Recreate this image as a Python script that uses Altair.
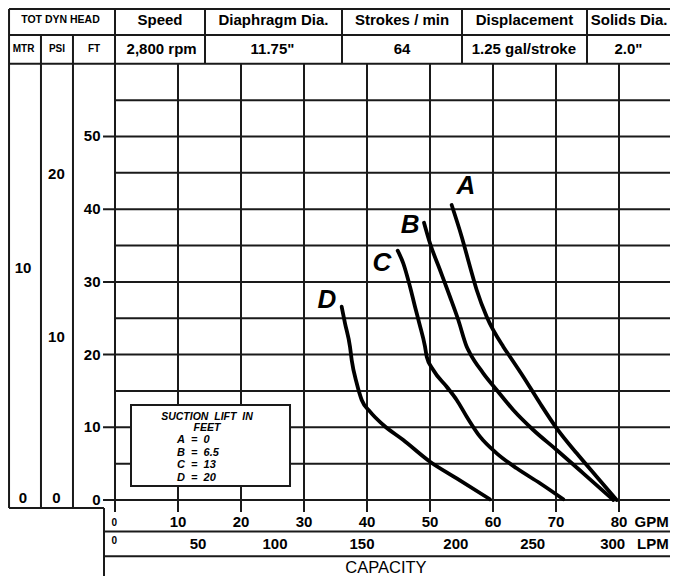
import altair as alt
import pandas as pd

# ---------------- data ----------------
curve_names = ["A", "B", "C", "D"]
curve_A_gpm = [53.44, 55.03, 56.35, 57.41, 59.0, 61.63, 62.70, 64.81, 67.46, 70.11, 73.29, 76.46, 79.63]
curve_A_ft = [40.58, 36.22, 32.09, 28.89, 25.21, 21.09, 19.71, 16.96, 13.30, 9.86, 6.42, 3.20, 0.0]
curve_B_gpm = [49.05, 50.0, 51.59, 53.17, 54.49, 55.83, 56.35, 58.46, 60.59, 63.22, 66.40, 70.11, 74.33, 79.10]
curve_B_ft = [38.14, 35.31, 31.64, 27.96, 24.76, 21.09, 20.18, 17.43, 15.13, 12.38, 9.63, 6.88, 3.67, 0.0]
curve_C_gpm = [44.87, 45.76, 46.83, 47.62, 48.30, 49.21, 49.48, 50.52, 52.65, 54.24, 55.83, 57.94, 60.59, 63.76, 67.46, 71.16]
curve_C_ft = [34.29, 32.56, 29.34, 26.59, 24.31, 21.09, 19.71, 17.88, 15.58, 13.76, 11.46, 8.71, 6.42, 4.36, 2.30, 0.1]
curve_D_gpm = [35.98, 36.51, 37.30, 37.57, 38.37, 39.16, 40.48, 42.59, 45.76, 50.0, 54.24, 59.52]
curve_D_ft = [26.59, 24.31, 21.09, 19.26, 16.05, 13.76, 12.15, 10.32, 8.25, 5.27, 2.98, 0.1]
curve_label_gpm = [55.71, 46.83, 42.38, 33.65]
curve_label_ft = [43.19, 37.83, 32.60, 27.51]

gpm_ticks = [10, 20, 30, 40, 50, 60, 70, 80]
ft_ticks = [0, 10, 20, 30, 40, 50]
ft_minor = [5, 15, 25, 35, 45, 55]
lpm_labels = [50, 100, 150, 200, 250, 300]
lpm_label_gpm = [13.17, 25.4, 39.2, 54.1, 66.3, 79.0]
mtr_labels = ["10", "0"]
mtr_label_ft = [31.9, 0.3]
psi_labels = ["20", "10", "0"]
psi_label_ft = [44.8, 22.4, 0.3]

header_row1 = ["TOT DYN HEAD", "Speed", "Diaphragm Dia.", "Strokes / min", "Displacement", "Solids Dia."]
header_row2 = ["2,800 rpm", "11.75\"", "64", "1.25 gal/stroke", "2.0\""]
unit_heads = ["MTR", "PSI", "FT"]
legend_title = ["SUCTION\u00a0\u00a0LIFT\u00a0\u00a0IN", "FEET"]
NB = "\u00a0\u00a0"
legend_lines = ["A" + NB + "=" + NB + "0", "B" + NB + "=" + NB + "6.5",
                "C" + NB + "=" + NB + "13", "D" + NB + "=" + NB + "20"]

# ---------------- layout in data units (GPM / FT) ----------------
W, H = 662, 568
X_MIN, X_MAX = -16.984, 88.095
Y_MAX = 67.675
Y_MIN = Y_MAX - H / 7.27
X_L = -16.82
Y_T = 67.54
Y_R1 = 63.96
Y_TOP = 60.0
col_x = [14.29, 36.03, 55.08, 74.92]
row1_cx = [-8.65, 7.14, 25.16, 45.56, 65.0, 81.6]
row2_cx = [7.4, 25.0, 45.56, 64.9, 81.5]
unit_cx = [-14.52, -9.21, -3.33]
Y_HDR1, Y_HDR2 = 66.0, 62.04
Y_PANEL_BOT = -1.10
Y_TICK_BOT = -1.65
X_STEP = -1.75
Y_ROW_GPM, Y_ROW_LPM = -4.33, -7.75

xs = alt.Scale(domain=[X_MIN, X_MAX], nice=False, zero=False)
ys = alt.Scale(domain=[Y_MIN, Y_MAX], nice=False, zero=False)
FONT = "Liberation Sans"
INK = "#1a1a1a"

# ---------------- line segments ----------------
segs = []
def seg(x1, x2, y1, y2):
    segs.append({"x": x1, "x2": x2, "y": y1, "y2": y2})

for yy in [Y_T, Y_R1, Y_TOP]:
    seg(X_L, X_MAX, yy, yy)
for cx in col_x:
    seg(cx, cx, Y_TOP, Y_T)
seg(X_L, X_L, Y_PANEL_BOT, Y_T)
seg(-11.75, -11.75, Y_PANEL_BOT, Y_R1)
seg(-6.67, -6.67, Y_PANEL_BOT, Y_R1)
seg(X_L, X_STEP, Y_PANEL_BOT, Y_PANEL_BOT)
seg(0, 0, Y_TICK_BOT, Y_T)
seg(X_STEP, X_STEP, Y_PANEL_BOT, Y_MIN)
seg(X_STEP, X_MAX, Y_ROW_GPM, Y_ROW_GPM)
seg(X_STEP, X_MAX, Y_ROW_LPM, Y_ROW_LPM)
for g in gpm_ticks:
    seg(g, g, Y_TICK_BOT, Y_TOP)
for f in ft_ticks:
    seg(-1.9, X_MAX, f, f)
for f in ft_minor:
    seg(0, X_MAX, f, f)
seg_df = pd.DataFrame(segs)

lines = alt.Chart(seg_df).mark_rule(color=INK, strokeWidth=2).encode(
    x=alt.X("x:Q", scale=xs, axis=None), x2="x2:Q",
    y=alt.Y("y:Q", scale=ys, axis=None), y2="y2:Q")

# ---------------- legend box ----------------
box_df = pd.DataFrame({"x": [2.54], "x2": [27.78], "y": [1.93], "y2": [13.07]})
box = alt.Chart(box_df).mark_rect(fill="white", stroke=INK, strokeWidth=2).encode(
    x=alt.X("x:Q", scale=xs, axis=None), x2="x2:Q",
    y=alt.Y("y:Q", scale=ys, axis=None), y2="y2:Q")

# ---------------- curves ----------------
rows = []
for name, gx, fy in zip(curve_names, [curve_A_gpm, curve_B_gpm, curve_C_gpm, curve_D_gpm],
                        [curve_A_ft, curve_B_ft, curve_C_ft, curve_D_ft]):
    for i, (a, b) in enumerate(zip(gx, fy)):
        rows.append({"curve": name, "gpm": a, "ft": b, "i": i})
curve_df = pd.DataFrame(rows)
curves = alt.Chart(curve_df).mark_line(color="black", strokeWidth=3.8, interpolate="monotone",
                                       strokeCap="round").encode(
    x=alt.X("gpm:Q", scale=xs, axis=None),
    y=alt.Y("ft:Q", scale=ys, axis=None),
    detail="curve:N", order="i:Q")

# ---------------- text helpers ----------------
def text_layer(xv, yv, tv, size, weight="bold", align="center", style="normal"):
    df = pd.DataFrame({"x": xv, "y": yv, "t": tv})
    return alt.Chart(df).mark_text(font=FONT, fontSize=size, fontWeight=weight, align=align,
                                   baseline="middle", fontStyle=style, color="black").encode(
        x=alt.X("x:Q", scale=xs, axis=None),
        y=alt.Y("y:Q", scale=ys, axis=None),
        text="t:N")

layers = [lines, box, curves]
layers.append(text_layer(row1_cx[:1], [Y_HDR1], header_row1[:1], 10.5))
layers.append(text_layer(row1_cx[1:], [Y_HDR1] * 5, header_row1[1:], 15))
layers.append(text_layer(unit_cx, [Y_HDR2] * 3, unit_heads, 10))
layers.append(text_layer(row2_cx, [Y_HDR2] * 5, header_row2, 15))
# FT axis labels
layers.append(text_layer([-2.3] * len(ft_ticks), ft_ticks, [str(v) for v in ft_ticks], 15, align="right"))
# MTR / PSI labels
layers.append(text_layer([-14.6] * 2, mtr_label_ft, mtr_labels, 15))
layers.append(text_layer([-9.3] * 3, psi_label_ft, psi_labels, 15))
# GPM labels
layers.append(text_layer(gpm_ticks, [-3.0] * len(gpm_ticks), [str(v) for v in gpm_ticks], 15))
layers.append(text_layer([-0.1], [-3.1], ["0"], 10))
layers.append(text_layer([87.9], [-3.0], ["GPM"], 15, align="right"))
# LPM labels
layers.append(text_layer(lpm_label_gpm, [-6.0] * len(lpm_labels), [str(v) for v in lpm_labels], 15))
layers.append(text_layer([-0.1], [-5.6], ["0"], 10))
layers.append(text_layer([87.9], [-6.0], ["LPM"], 15, align="right"))
# CAPACITY
layers.append(text_layer([43.0], [-9.3], ["CAPACITY"], 16.5, weight="normal"))
# legend text
layers.append(text_layer([14.6, 14.6], [11.45, 9.85], legend_title, 10.5, style="italic"))
layers.append(text_layer([9.84] * 4, [8.2, 6.45, 4.75, 3.05], legend_lines, 11, align="left", style="italic"))
# curve letters
layers.append(text_layer(curve_label_gpm, curve_label_ft, curve_names, 26, weight="bold", style="italic"))

chart = alt.layer(*layers).properties(
    width=W, height=H, padding=0, autosize="none", background="white"
).configure_view(stroke=None)

chart.save("out.html", embed_options={"renderer": "svg", "actions": False})
